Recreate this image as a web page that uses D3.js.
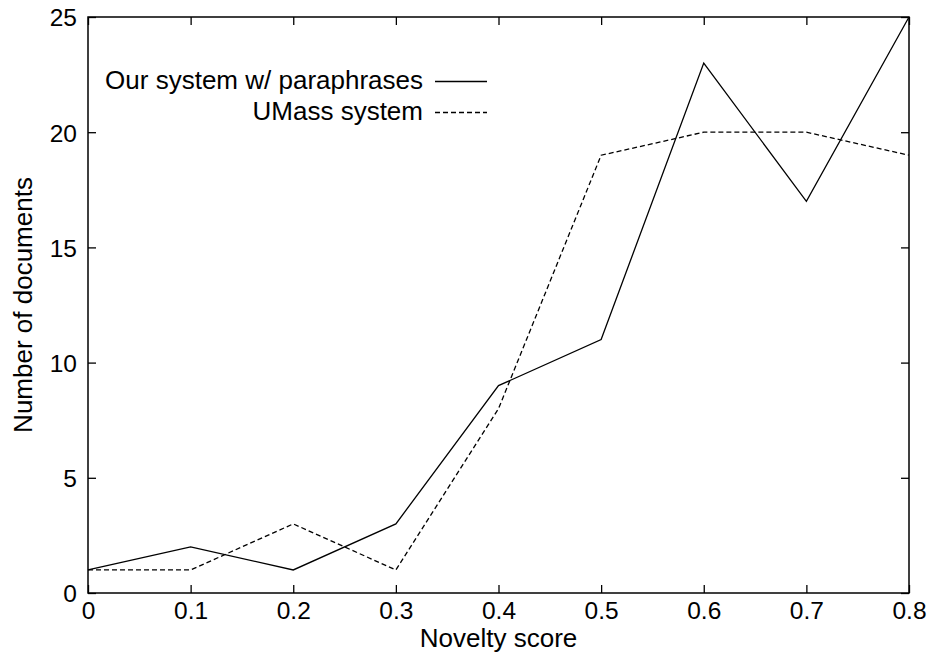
<!DOCTYPE html>
<html><head><meta charset="utf-8">
<script src="https://cdn.jsdelivr.net/npm/d3@7"></script>
<style>body{margin:0;background:#fff}svg{display:block}text{font-family:"Liberation Sans",Arial,sans-serif;fill:#000}</style>
</head><body>
<script>
const noveltyScores = [0, 0.1, 0.2, 0.3, 0.4, 0.5, 0.6, 0.7, 0.8];
const ourSystem = [1, 2, 1, 3, 9, 11, 23, 17, 25];
const umassSystem = [1, 1, 3, 1, 8, 19, 20, 20, 19];
const xTicks = [0, 0.1, 0.2, 0.3, 0.4, 0.5, 0.6, 0.7, 0.8];
const yTicks = [0, 5, 10, 15, 20, 25];
const seriesNames = ["Our system w/ paraphrases", "UMass system"];

const W = 933, H = 655;
const m = {left: 88, right: 24, top: 17, bottom: 62};
const svg = d3.select("body").append("svg").attr("width", W).attr("height", H);
const x = d3.scaleLinear().domain([0, 0.8]).range([m.left, W - m.right]);
const y = d3.scaleLinear().domain([0, 25]).range([H - m.bottom, m.top]);
const fs = 26, tfs = 24.5, tick = 8;

const g = svg.append("g");
g.append("rect").attr("x", x(0)).attr("y", y(25)).attr("width", x(0.8) - x(0)).attr("height", y(0) - y(25))
  .attr("fill", "none").attr("stroke", "#000").attr("stroke-width", 1.5);

const xb = g.append("g").attr("transform", `translate(0,${y(0)})`)
  .call(d3.axisBottom(x).tickValues(xTicks).tickSize(-tick).tickFormat(d => d3.format("")(d)));
const xt = g.append("g").attr("transform", `translate(0,${y(25)})`)
  .call(d3.axisTop(x).tickValues(xTicks).tickSize(-tick).tickFormat(""));
const yl = g.append("g").attr("transform", `translate(${x(0)},0)`)
  .call(d3.axisLeft(y).tickValues(yTicks).tickSize(-tick));
const yr = g.append("g").attr("transform", `translate(${x(0.8)},0)`)
  .call(d3.axisRight(y).tickValues(yTicks).tickSize(-tick).tickFormat(""));
[xb, xt, yl, yr].forEach(a => {
  a.select(".domain").remove();
  a.selectAll("line").attr("stroke", "#000").attr("stroke-width", 1.3);
  a.selectAll("text").attr("font-size", tfs).attr("font-family", '"Liberation Sans",Arial,sans-serif').attr("fill", "#000");
});
xb.selectAll("text").attr("dy", null).attr("y", 26);
yl.selectAll("text").attr("x", -11).attr("dy", "0.36em");

svg.append("text").attr("x", (x(0) + x(0.8)) / 2).attr("y", 647).attr("text-anchor", "middle")
  .attr("font-size", fs).text("Novelty score");
svg.append("text").attr("transform", `translate(32,${(y(0) + y(25)) / 2}) rotate(-90)`)
  .attr("text-anchor", "middle").attr("font-size", fs).text("Number of documents");

const line = d3.line().x((d, i) => x(noveltyScores[i])).y(d => y(d));
svg.append("path").datum(ourSystem).attr("d", line).attr("fill", "none").attr("stroke", "#000").attr("stroke-width", 1.3);
svg.append("path").datum(umassSystem).attr("d", line).attr("fill", "none").attr("stroke", "#000").attr("stroke-width", 1.3)
  .attr("stroke-dasharray", "5,3");

const dashes = [null, "5,3"];
seriesNames.forEach((n, i) => {
  const ly = 81.5 + i * 31;
  svg.append("text").attr("x", 423).attr("y", ly + 7.5).attr("text-anchor", "end").attr("font-size", fs).text(n);
  svg.append("line").attr("x1", 435).attr("x2", 487).attr("y1", ly).attr("y2", ly)
    .attr("stroke", "#000").attr("stroke-width", 1.3).attr("stroke-dasharray", dashes[i]);
});
</script>
</body></html>
